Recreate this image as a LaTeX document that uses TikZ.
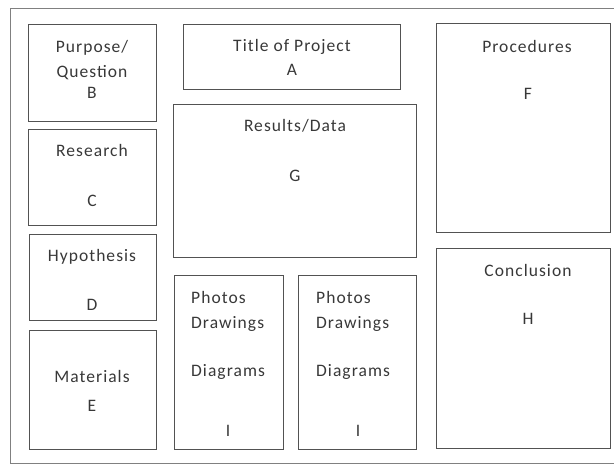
\documentclass[tikz,border=0pt]{standalone}
\usepackage{fontspec}
\setmainfont[LetterSpace=6]{Carlito}
\begin{document}
\begin{tikzpicture}[x=1pt,y=-1pt,
  box/.style={draw=black!68, line width=1.3pt, anchor=north west, inner sep=0pt},
  lbl/.style={anchor=base, inner sep=0pt, text=black!78, font=\fontsize{17.5}{21}\selectfont},
  lbll/.style={lbl, anchor=base west}]
\useasboundingbox (0,0) rectangle (614,465);
\draw[draw=black!50, line width=0.9pt] (10,463) -- (10,8) -- (616,8);
\draw[draw=black!50, line width=0.9pt] (10,463) -- (616,463);
% boxes
\node[box, minimum width=128pt, minimum height=97pt] (B) at (28,24) {};
\node[box, minimum width=128pt, minimum height=96pt] (C) at (28,129) {};
\node[box, minimum width=127pt, minimum height=86pt] (D) at (29,234) {};
\node[box, minimum width=127pt, minimum height=119pt] (E) at (29,330) {};
\node[box, minimum width=217pt, minimum height=65pt] (A) at (183,24) {};
\node[box, minimum width=243pt, minimum height=153pt] (G) at (173,104) {};
\node[box, minimum width=109pt, minimum height=174pt] (I1) at (174,275) {};
\node[box, minimum width=118pt, minimum height=174pt] (I2) at (298,275) {};
\node[box, minimum width=174pt, minimum height=209pt] (F) at (436,23) {};
\node[box, minimum width=174pt, minimum height=200pt] (H) at (436,248) {};
% labels
\node[lbl] (tB1) at (92,53) {Purpose/};
\node[lbl] (tB2) at (92,78) {Question};
\node[lbl] (tB3) at (92,99) {B};
\node[lbl] (tC1) at (92,157) {Research};
\node[lbl] (tC2) at (92,207) {C};
\node[lbl] (tD1) at (92,262) {Hypothesis};
\node[lbl] (tD2) at (92,311) {D};
\node[lbl] (tE1) at (92,383) {Materials};
\node[lbl] (tE2) at (92,412) {E};
\node[lbl] (tA1) at (292,52) {Title of Project};
\node[lbl] (tA2) at (292,76) {A};
\node[lbl] (tG1) at (295,132) {Results/Data};
\node[lbl] (tG2) at (295,182) {G};
\node[lbl] (tF1) at (527,53) {Procedures};
\node[lbl] (tF2) at (528,100) {F};
\node[lbl] (tH1) at (528,277) {Conclusion};
\node[lbl] (tH2) at (528,325) {H};
\node[lbll] (tI1a) at (191,304) {Photos};
\node[lbll] (tI1b) at (191,329) {Drawings};
\node[lbll] (tI1c) at (191,377) {Diagrams};
\node[lbl] (tI1d) at (228,436) {I};
\node[lbll] (tI2a) at (316,304) {Photos};
\node[lbll] (tI2b) at (316,329) {Drawings};
\node[lbll] (tI2c) at (316,377) {Diagrams};
\node[lbl] (tI2d) at (358,436) {I};
\end{tikzpicture}
\end{document}
